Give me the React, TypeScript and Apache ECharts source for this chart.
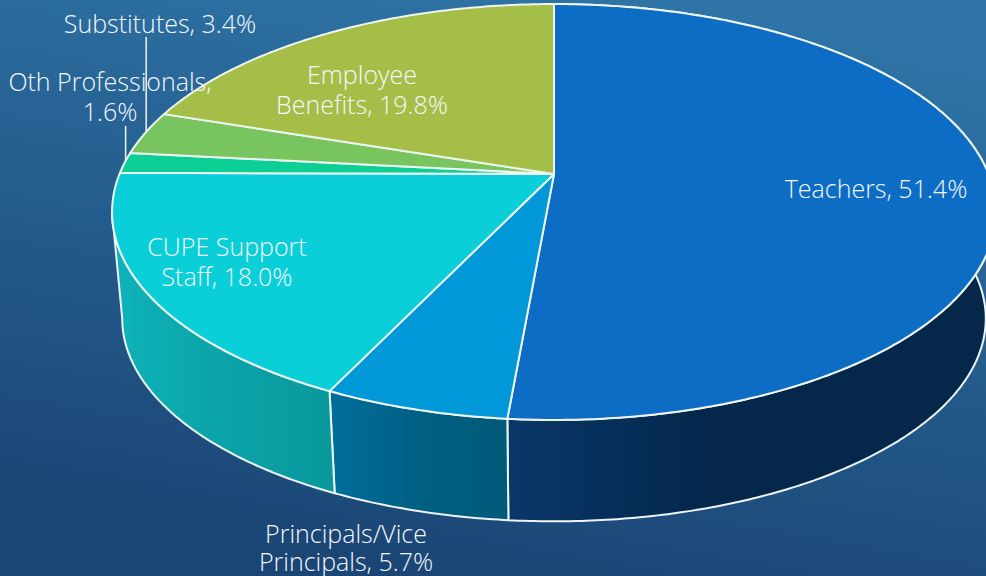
import React, { useEffect, useRef } from "react";
import * as echarts from "echarts";

const categories = [
  "Teachers",
  "Principals/Vice\nPrincipals",
  "CUPE Support\nStaff",
  "Oth Professionals,\n",
  "Substitutes",
  "Employee\nBenefits",
];
const shares = [51.4, 5.7, 18.0, 1.6, 3.4, 19.8];

const topColors = ["#0d6cc4", "#0098d8", "#0acfd9", "#0ccf96", "#78c560", "#a4be48"];
const sideStops: (string[] | null)[] = [
  ["#0a3768", "#062f5a", "#04274a"],
  ["#006e9c", "#005f84", "#005a78"],
  ["#0eb4b9", "#0aa3a8", "#0a989c"],
  null,
  null,
  null,
];
const labelCentres = [
  [876, 188],
  [346, 547],
  [227, 261],
  [110, 96],
  [160, 23],
  [362, 89],
];
const leaderTops: (number | null)[] = [null, null, null, 126, 37, null];

const PERSPECTIVE = 0.1827;
const upper = { cx: 554, cy: 174, a: 434.5, b: 201 };
const lower = { cx: 554, cy: 281.5, a: 424.5, b: 196 };
const TAU = Math.PI * 2;
const silhouetteRight = Math.acos(-PERSPECTIVE);
const silhouetteLeft = TAU - silhouetteRight;

type Disc = typeof upper;
function rim(d: Disc, t: number): number[] {
  const u = Math.sin(t);
  const v = -Math.cos(t);
  const w = 1 - PERSPECTIVE * v;
  return [d.cx + (d.a * u) / w, d.cy + (d.b * v) / w];
}
function arc(d: Disc, from: number, to: number): number[][] {
  const steps = Math.max(2, Math.ceil((to - from) / 0.01));
  const pts: number[][] = [];
  for (let i = 0; i <= steps; i++) pts.push(rim(d, from + ((to - from) * i) / steps));
  return pts;
}

function sliceAngles(index: number): [number, number] {
  let acc = 0;
  for (let i = 0; i < index; i++) acc += shares[i];
  const end = index === shares.length - 1 ? 100 : acc + shares[index];
  return [(acc / 100) * TAU, (end / 100) * TAU];
}

const FONT = '"Open Sans"';
const renderSide = (params: any, api: any) => {
  const i = params.dataIndex;
  const stops = sideStops[i];
  if (!stops) return { type: "group", children: [] };
  const [s, e] = sliceAngles(i);
  const to = Math.min(e, silhouetteLeft);
  if (to <= s) return { type: "group", children: [] };
  const top = arc(upper, s, to);
  const bottom = arc(lower, s, to).reverse();
  const xs = [...top, ...bottom].map((p) => p[0]);
  const x0 = Math.min(...xs);
  const x1 = Math.max(...xs);
  const fill = new echarts.graphic.LinearGradient(
    x0,
    0,
    i === 0 ? Math.min(x1, 720) : x1,
    0,
    stops.map((color, k) => ({ offset: k / (stops.length - 1), color })),
    true,
  );
  return {
    type: "polygon",
    shape: { points: [...top, ...bottom] },
    style: { fill, stroke: "#eef4f6", lineWidth: 2, lineJoin: "round" },
  };
};

const renderTop = (params: any, api: any) => {
  const i = params.dataIndex;
  const [s, e] = sliceAngles(i);
  const pts = [[upper.cx, upper.cy], ...arc(upper, s, e)];
  return {
    type: "polygon",
    shape: { points: pts },
    style: { fill: topColors[i], stroke: "#eef4f0", lineWidth: 2, lineJoin: "round" },
  };
};

const renderLabel = (params: any, api: any) => {
  const i = params.dataIndex;
  const [s, e] = sliceAngles(i);
  const value = api.value(0) as number;
  const name = categories[i];
  const text = name.endsWith("\n")
    ? `${name}${value.toFixed(1)}%`
    : `${name}, ${value.toFixed(1)}%`;
  const children: any[] = [];
  const top = leaderTops[i];
  if (top !== null) {
    const p = rim(upper, (s + e) / 2);
    children.push({
      type: "line",
      shape: { x1: p[0] + 1, y1: top, x2: p[0] + 1, y2: p[1] - 2 },
      style: { stroke: "#f2f6f8", lineWidth: 1.5 },
    });
  }
  children.push({
    type: "text",
    x: labelCentres[i][0],
    y: labelCentres[i][1],
    style: {
      text,
      fill: "#f4f8fb",
      font: `300 25px ${FONT}, Lato, sans-serif`,
      align: "center",
      verticalAlign: "middle",
      lineHeight: i === 1 ? 28 : 30,
    },
  });
  return { type: "group", children };
};

const seriesData = shares.map((value, i) => ({ name: categories[i], value: [value] }));

export default function App() {
  const ref = useRef<HTMLDivElement>(null);
  useEffect(() => {
    document.body.style.margin = "0";
    document.body.style.overflow = "hidden";
    const chart = echarts.init(ref.current!, undefined, { renderer: "svg" });
    chart.setOption({
      animation: false,
      backgroundColor: new echarts.graphic.LinearGradient(0.72, 0, 0.42, 1, [
        { offset: 0, color: "#2f75a7" },
        { offset: 0.55, color: "#235a8b" },
        { offset: 1, color: "#1a4574" },
      ]),
      series: [
        { type: "custom", coordinateSystem: "none", renderItem: renderSide, data: seriesData, z: 1, silent: true },
        { type: "custom", coordinateSystem: "none", renderItem: renderTop, data: seriesData, z: 2, silent: true },
        { type: "custom", coordinateSystem: "none", renderItem: renderLabel, data: seriesData, z: 3, silent: true },
      ],
    });
    return () => chart.dispose();
  }, []);
  return <div ref={ref} style={{ width: 986, height: 576 }} />;
}
